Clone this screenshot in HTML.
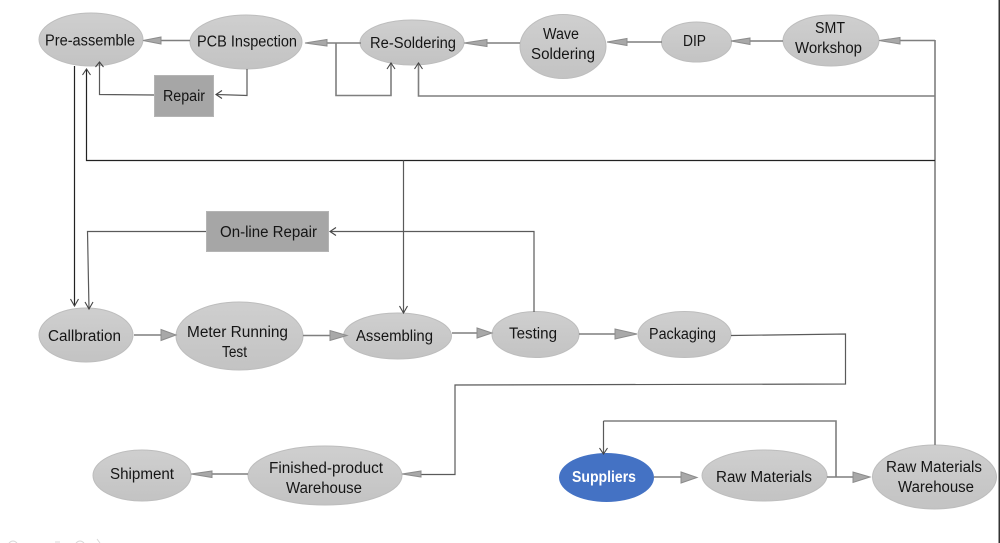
<!DOCTYPE html>
<html>
<head>
<meta charset="utf-8">
<style>
html,body{margin:0;padding:0;background:#fff;width:1000px;height:543px;overflow:hidden}
svg{display:block}
text{font-family:"Liberation Sans",sans-serif;font-size:15.5px;fill:#151515;stroke:none}
.e{fill:url(#g);stroke:#bdbdbd;stroke-width:1}
.r{fill:#a6a6a6;stroke:#b4b4b4;stroke-width:1}
.l{fill:none;stroke:#7f7f7f;stroke-width:1.6}
.t{fill:none;stroke:#5a5a5a;stroke-width:1.2}
.k{fill:none;stroke:#222;stroke-width:1.2}
.h{fill:#a8a8a8;stroke:#8c8c8c;stroke-width:1}
.o{fill:none;stroke:#444;stroke-width:1.1}
</style>
</head>
<body>
<svg width="1000" height="543" viewBox="0 0 1000 543" xmlns="http://www.w3.org/2000/svg">
<defs>
<linearGradient id="g" x1="0" y1="0" x2="0" y2="1">
<stop offset="0" stop-color="#cfcfcf"/>
<stop offset="1" stop-color="#c3c3c3"/>
</linearGradient>
</defs>

<!-- nodes -->
<ellipse class="e" cx="91" cy="39.500" rx="52" ry="26.500"/>
<ellipse class="e" cx="246" cy="42" rx="56" ry="27"/>
<ellipse class="e" cx="412" cy="42.500" rx="52" ry="22.500"/>
<ellipse class="e" cx="563" cy="46.500" rx="43" ry="32"/>
<ellipse class="e" cx="696.500" cy="42" rx="35" ry="20"/>
<ellipse class="e" cx="831" cy="40.500" rx="48" ry="25.500"/>
<ellipse class="e" cx="86" cy="335" rx="47" ry="27"/>
<ellipse class="e" cx="239.500" cy="336" rx="63.500" ry="34"/>
<ellipse class="e" cx="397.500" cy="336" rx="54" ry="23"/>
<ellipse class="e" cx="535.500" cy="334.500" rx="43.500" ry="23"/>
<ellipse class="e" cx="684.500" cy="334.500" rx="46.500" ry="23"/>
<ellipse cx="606.500" cy="477.500" rx="47.500" ry="24.500" fill="#4472c4"/>
<ellipse class="e" cx="764.500" cy="475.500" rx="62.500" ry="25.500"/>
<ellipse class="e" cx="934.500" cy="477" rx="62" ry="32"/>
<ellipse class="e" cx="142" cy="475.500" rx="49" ry="25.500"/>
<ellipse class="e" cx="325" cy="475.500" rx="77" ry="29.500"/>
<rect class="r" x="154.500" y="75.500" width="59" height="41"/>
<rect class="r" x="206.500" y="211.500" width="122" height="40"/>

<!-- connector lines -->
<path class="l" d="M190 40.500H160M361 43H327M520 43H486M662 42H627M783 41H750M935 40.500H900"/>
<path class="l" d="M935 40V445"/>
<path class="l" d="M935 96H418.500V63"/>
<path class="l" d="M336 43V95.500H391V63"/>
<path class="k" d="M935 160.500H86.500V69"/>
<path class="k" d="M74.500 66V306"/>
<path class="t" d="M247 69V95.500L217 94.500"/>
<path class="t" d="M154 95L99.500 94.500V62"/>
<path class="t" d="M403.500 160.500V313"/>
<path class="t" d="M534 312V231.500H331"/>
<path class="t" d="M206 231.500H87.500L89 309"/>
<path class="l" d="M134 335H161M303 335.500H330M452 333H477M579 334H615"/>
<path class="t" d="M731 335.500L845.500 334V384L455 385V474.500H421"/>
<path class="l" d="M248 474H212M654 477H681M827 477H853"/>
<path class="l" d="M836 477V421H603.500"/>
<path class="t" d="M603.500 421V454"/>

<!-- triangle arrowheads -->
<polygon class="h" points="143,40.500 161,37 161,44"/>
<polygon class="h" points="305,43 327,39.500 327,46"/>
<polygon class="h" points="464,43 487,39.500 487,46.500"/>
<polygon class="h" points="607,42 627,38.500 627,45.500"/>
<polygon class="h" points="731,41 750,38 750,44.500"/>
<polygon class="h" points="879,40.500 900,37.500 900,44"/>
<polygon class="h" points="176,335 161,329.500 161,340.500"/>
<polygon class="h" points="347,335.500 330,330.500 330,340.500"/>
<polygon class="h" points="492,333 477,328 477,338"/>
<polygon class="h" points="637,334 615,329 615,339"/>
<polygon class="h" points="402,474 421,471 421,477"/>
<polygon class="h" points="191,474 212,471 212,477.500"/>
<polygon class="h" points="697,477.500 681,472 681,483"/>
<polygon class="h" points="870,477 853,472 853,482.500"/>

<!-- open arrowheads -->
<path class="o" d="M95.500 67L99.500 62L103.500 67"/>
<path class="o" d="M82.500 75L86.500 69L90.500 75"/>
<path class="o" d="M387 69L391 63L395 69"/>
<path class="o" d="M414.500 69L418.500 63L422.500 69"/>
<path class="o" d="M222 90.500L216 94.500L222 98.500"/>
<path class="o" d="M70.500 299L74.500 306L78.500 299"/>
<path class="o" d="M85 302L89 309L93 302"/>
<path class="o" d="M399.500 306L403.500 313L407.500 306"/>
<path class="o" d="M336 227.500L330 231.500L336 235.500"/>
<path class="o" d="M599.500 448L603.500 454L607.500 448"/>

<!-- labels -->
<text x="45" y="45.500" textLength="90" lengthAdjust="spacingAndGlyphs">Pre-assemble</text>
<text x="197" y="46.500" textLength="100" lengthAdjust="spacingAndGlyphs">PCB Inspection</text>
<text x="370" y="48" textLength="86" lengthAdjust="spacingAndGlyphs">Re-Soldering</text>
<text x="543" y="39" textLength="36" lengthAdjust="spacingAndGlyphs">Wave</text>
<text x="531" y="59" textLength="64" lengthAdjust="spacingAndGlyphs">Soldering</text>
<text x="683" y="46" textLength="23" lengthAdjust="spacingAndGlyphs">DIP</text>
<text x="815" y="33" textLength="30" lengthAdjust="spacingAndGlyphs">SMT</text>
<text x="795" y="53" textLength="67" lengthAdjust="spacingAndGlyphs">Workshop</text>
<text x="163" y="101" textLength="42" lengthAdjust="spacingAndGlyphs">Repair</text>
<text x="220" y="237" textLength="97" lengthAdjust="spacingAndGlyphs">On-line Repair</text>
<text x="48" y="341" textLength="73" lengthAdjust="spacingAndGlyphs">Callbration</text>
<text x="187" y="337" textLength="101" lengthAdjust="spacingAndGlyphs">Meter Running</text>
<text x="222" y="357" textLength="25" lengthAdjust="spacingAndGlyphs">Test</text>
<text x="356" y="341" textLength="77" lengthAdjust="spacingAndGlyphs">Assembling</text>
<text x="509" y="338.500" textLength="48" lengthAdjust="spacingAndGlyphs">Testing</text>
<text x="649" y="339" textLength="67" lengthAdjust="spacingAndGlyphs">Packaging</text>
<text x="572" y="482" textLength="64" lengthAdjust="spacingAndGlyphs" style="fill:#fff;font-weight:bold">Suppliers</text>
<text x="716" y="482" textLength="96" lengthAdjust="spacingAndGlyphs">Raw Materials</text>
<text x="886" y="472" textLength="96" lengthAdjust="spacingAndGlyphs">Raw Materials</text>
<text x="898" y="492" textLength="76" lengthAdjust="spacingAndGlyphs">Warehouse</text>
<text x="110" y="479" textLength="64" lengthAdjust="spacingAndGlyphs">Shipment</text>
<text x="269" y="473" textLength="114" lengthAdjust="spacingAndGlyphs">Finished-product</text>
<text x="286" y="493" textLength="76" lengthAdjust="spacingAndGlyphs">Warehouse</text>

<!-- bottom-edge remnants and right border -->
<path d="M9 543Q13 539 17 543M55 542H60M76 543Q80 539 84 543M97 539L100 543" fill="none" stroke="#d8d8d8" stroke-width="1"/>
<rect x="998.500" y="0" width="1.500" height="543" fill="#333"/>
</svg>
</body>
</html>
